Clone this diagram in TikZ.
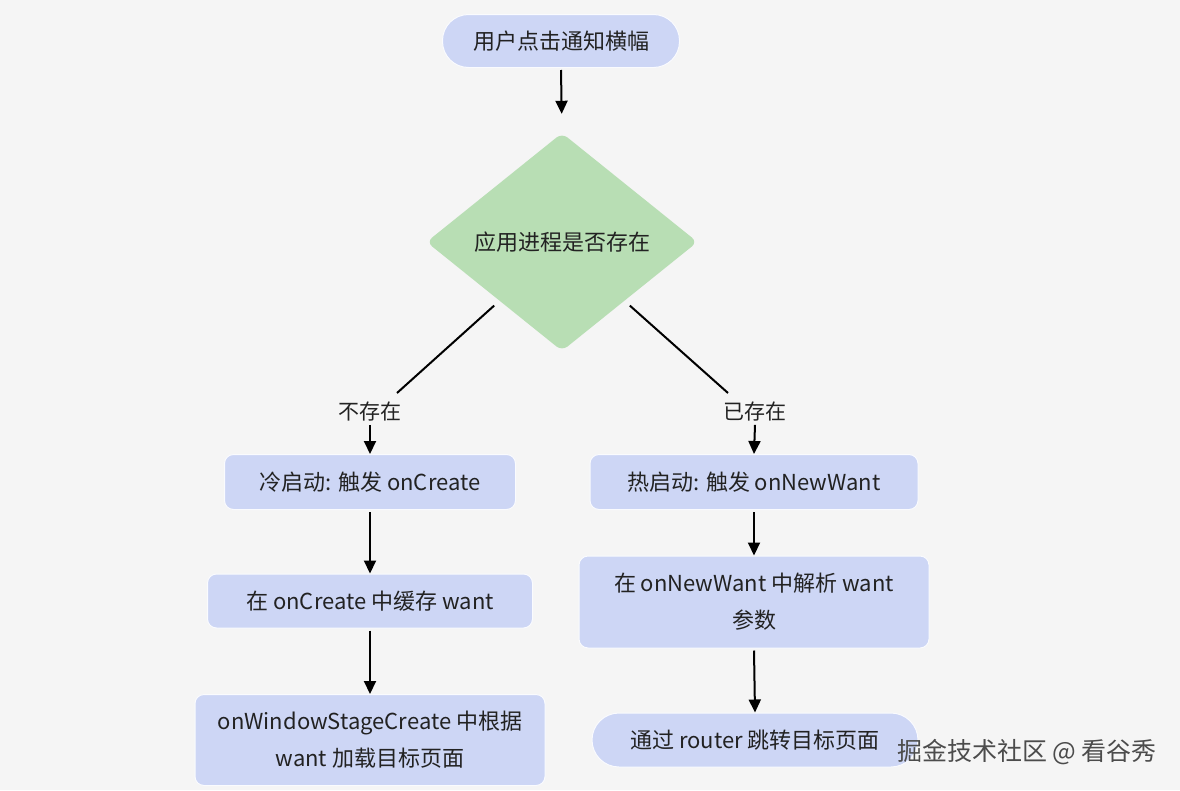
\documentclass[tikz,border=0pt]{standalone}
\usepackage{fontspec}
\setmainfont{Noto Sans CJK SC}
\usetikzlibrary{arrows.meta,shapes.geometric}
\definecolor{bgc}{HTML}{F5F5F5}
\definecolor{boxc}{HTML}{CDD6F5}
\definecolor{decc}{HTML}{B8DEB4}
\definecolor{txt}{HTML}{222222}
\begin{document}
\begin{tikzpicture}[x=1pt,y=-1pt,
  box/.style={fill=boxc, draw=white!90!boxc, line width=1pt, rounded corners=9pt, minimum height=55pt, font=\fontsize{22}{37}\selectfont, text=txt, align=center, inner sep=0pt},
  pill/.style={box, rounded corners=26pt, minimum height=53pt},
  lbl/.style={font=\fontsize{21}{21}\selectfont, text=txt, inner sep=3pt},
  arr/.style={-{Triangle[length=13pt,width=12pt]}, line width=2pt, black},
  ln/.style={line width=2pt, black}
]
\fill[bgc] (0,0) rectangle (1180,790);
\useasboundingbox (0,0) rectangle (1180,790);

\node[pill, minimum width=237pt] (start) at (561,41) {用户点击通知横幅};
\node[diamond, fill=decc, minimum width=271pt, minimum height=218pt, inner sep=0pt, rounded corners=7pt, font=\fontsize{22}{22}\selectfont, text=txt] (dec) at (562,242) {应用进程是否存在};

\node[lbl] (lblL) at (370,412) {不存在};
\node[lbl] (lblR) at (755,412) {已存在};
\coordinate (eL) at (397,393);
\coordinate (eR) at (728,393);

\node[box, minimum width=291pt] (cold) at (370,482) {冷启动: 触发 onCreate};
\node[box, minimum width=325pt, minimum height=54pt] (cache) at (370,601) {在 onCreate 中缓存 want};
\node[box, minimum width=350pt, minimum height=91pt] (load) at (370,740) {onWindowStageCreate 中根据\\want 加载目标页面};

\node[box, minimum width=328pt] (hot) at (754,482) {热启动: 触发 onNewWant};
\node[box, minimum width=350pt, minimum height=92pt] (parse) at (754,602) {在 onNewWant 中解析 want\\参数};
\node[pill, minimum width=326pt, minimum height=54pt, rounded corners=27pt] (route) at (755,740) {通过 router 跳转目标页面};

\draw[arr, shorten >=19pt] ([yshift=-2pt]start.south) -- (dec.north);
\draw[ln] ([yshift=-9pt]dec.south west) -- (eL);
\draw[ln] ([yshift=-9pt]dec.south east) -- (eR);
\draw[arr] (lblL.south) -- (cold.north);
\draw[arr] (lblR.south) -- (hot.north);
\draw[arr] ([yshift=-2pt]cold.south) -- (cache.north);
\draw[arr] ([yshift=-2pt]cache.south) -- (load.north);
\draw[arr] ([yshift=-2pt]hot.south) -- (parse.north);
\draw[arr] ([yshift=-2pt]parse.south) -- (route.north);

\node[font=\fontsize{25}{25}\selectfont, text=black!70] (wm) at (1027,752) {掘金技术社区 @ 看谷秀};
\end{tikzpicture}
\end{document}
